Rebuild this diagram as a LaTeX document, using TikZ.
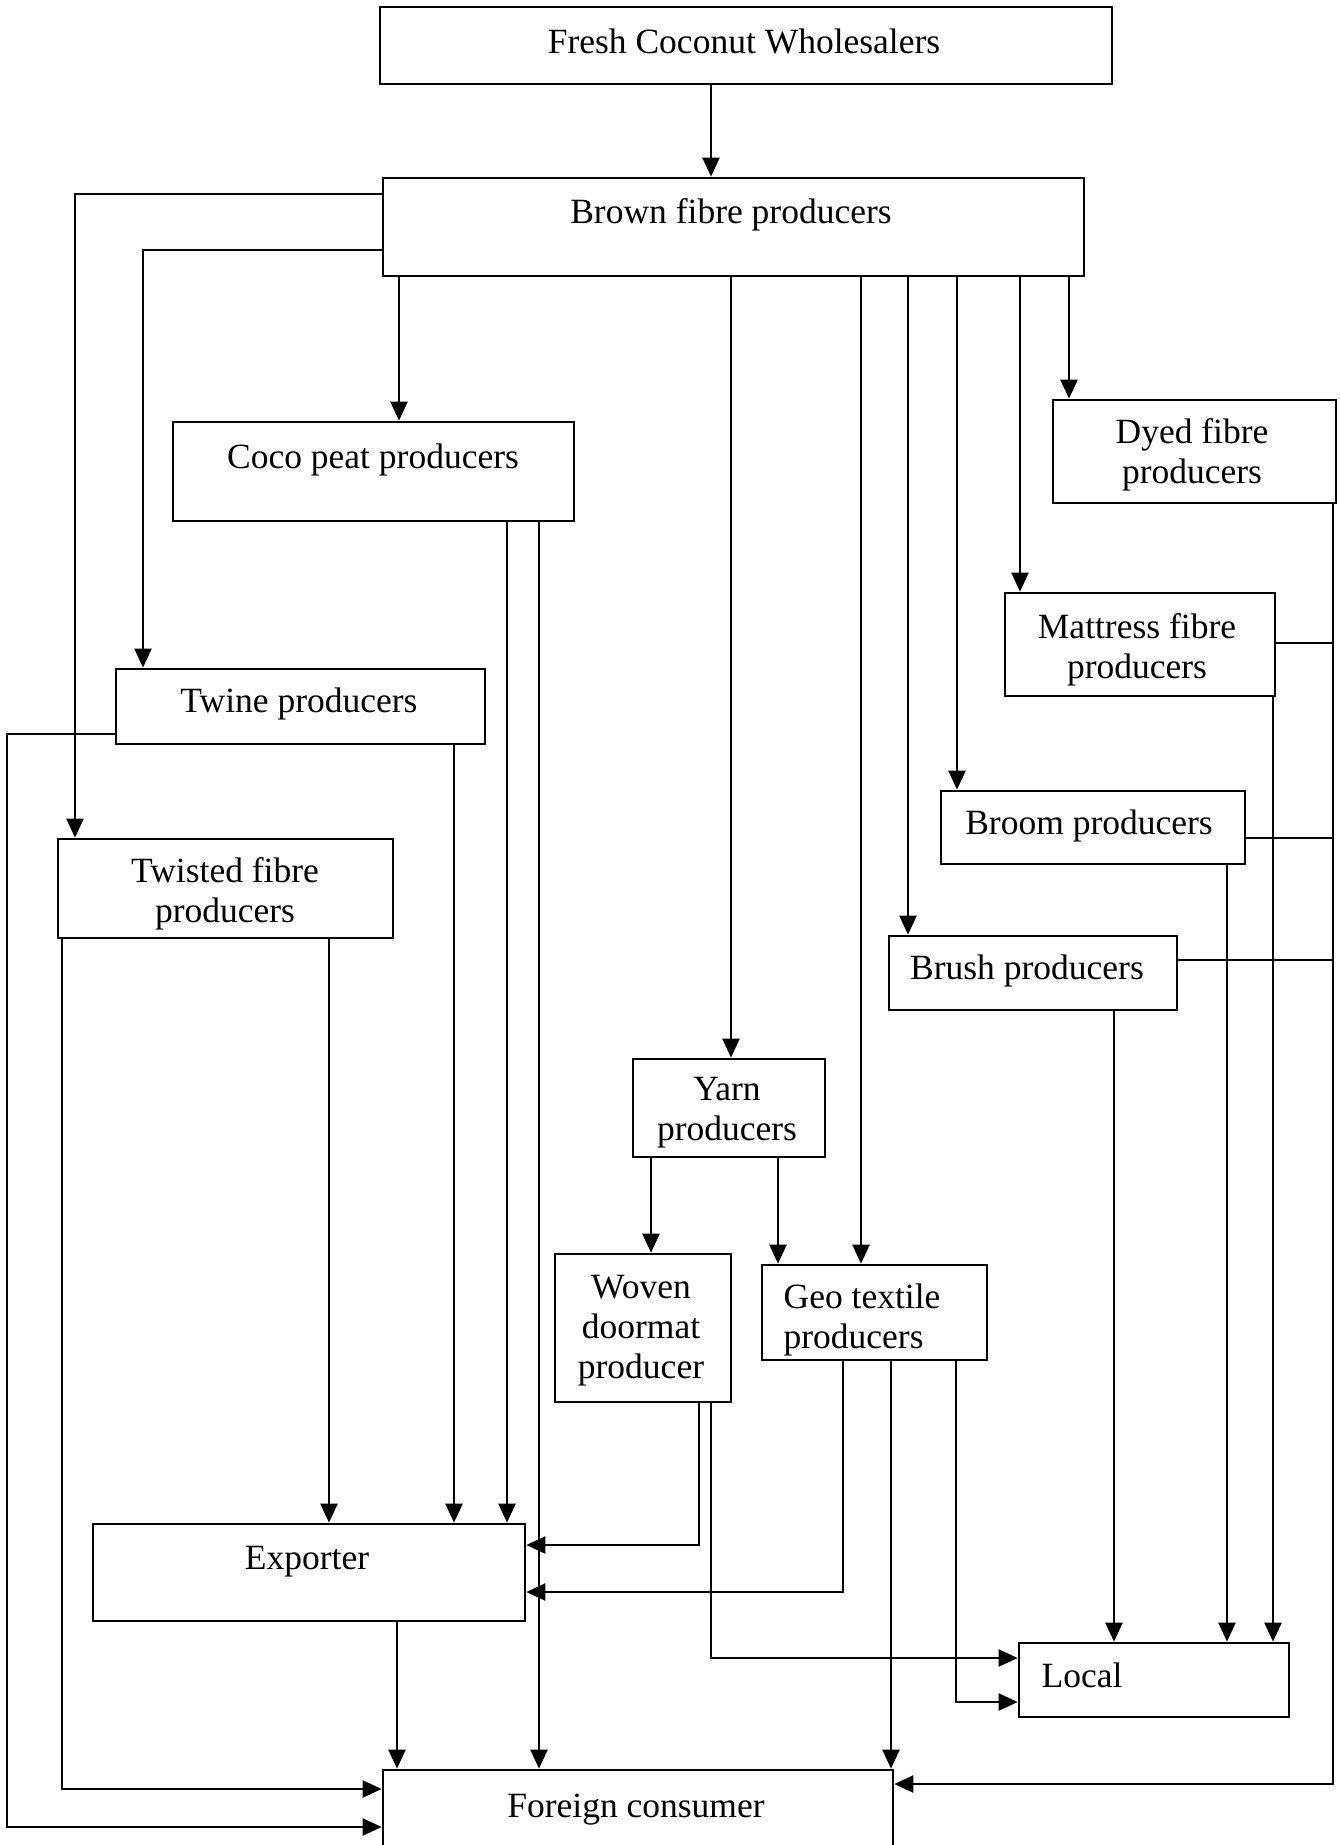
\documentclass[tikz,border=0pt]{standalone}
\usepackage{fontspec}
\setmainfont{Liberation Serif}
\usetikzlibrary{arrows.meta,fit}
\begin{document}
\begin{tikzpicture}[x=1pt,y=-1pt,
  box/.style={draw, line width=2.7pt, inner sep=0pt, rectangle},
  lbl/.style={font=\fontsize{35.5}{40}\selectfont, inner sep=0pt, align=center},
  conn/.style={line width=2.3pt},
  arr/.style={conn, -{Triangle[length=19pt,width=17pt]}}]
\useasboundingbox (0,0) rectangle (1340,1845);
% boxes
\node[box, fit={(380,7) (1112,84)}] (fresh) {};
\node[box, fit={(383,178) (1084,276)}] (brown) {};
\node[box, fit={(173,422) (574,521)}] (coco) {};
\node[box, fit={(1053,400) (1336,503)}] (dyed) {};
\node[box, fit={(1005,593) (1275,696)}] (mattress) {};
\node[box, fit={(116,669) (485,744)}] (twine) {};
\node[box, fit={(58,839) (393,938)}] (twisted) {};
\node[box, fit={(941,791) (1245,864)}] (broom) {};
\node[box, fit={(889,936) (1177,1010)}] (brush) {};
\node[box, fit={(633,1059) (825,1157)}] (yarn) {};
\node[box, fit={(555,1254) (731,1402)}] (woven) {};
\node[box, fit={(762,1265) (987,1360)}] (geo) {};
\node[box, fit={(93,1524) (525,1621)}] (exporter) {};
\node[box, fit={(1019,1643) (1289,1717)}] (local) {};
\node[box, fit={(383,1770) (893,1880)}] (foreign) {};
% texts
\node[lbl] (freshT) at (744,41) {Fresh Coconut Wholesalers};
\node[lbl] (brownT) at (731,215) {Brown fibre producers};
\node[lbl] (cocoT) at (373,460) {Coco peat producers};
\node[lbl] (dyedT) at (1192,455) {Dyed fibre\\producers};
\node[lbl] (mattressT) at (1137,650) {Mattress fibre\\producers};
\node[lbl] (twineT) at (299,704) {Twine producers};
\node[lbl] (twistedT) at (225,894) {Twisted fibre\\producers};
\node[lbl] (broomT) at (1089,826) {Broom producers};
\node[lbl] (brushT) at (1027,971) {Brush producers};
\node[lbl] (yarnT) at (727,1113) {Yarn\\producers};
\node[lbl] (wovenT) at (641,1331) {Woven\\doormat\\producer};
\node[lbl, align=left] (geoT) at (862,1320) {Geo textile\\producers};
\node[lbl] (exporterT) at (307,1562) {Exporter};
\node[lbl] (localT) at (1082,1675) {Local};
\node[lbl] (foreignT) at (636,1810) {Foreign consumer};
% connectors from the top
\draw[arr] (fresh.south -| 711,0) -- (brown.north -| 711,0);
\draw[arr] (brown.west |- 0,194) -| (twisted.north -| 75,0);
\draw[arr] (brown.west |- 0,250) -| (twine.north -| 143,0);
\draw[arr] (brown.south -| 399,0) -- (coco.north -| 399,0);
\draw[arr] (brown.south -| 731,0) -- (yarn.north -| 731,0);
\draw[arr] (brown.south -| 861,0) -- (geo.north -| 861,0);
\draw[arr] (brown.south -| 908,0) -- (brush.north -| 908,0);
\draw[arr] (brown.south -| 957,0) -- (broom.north -| 957,0);
\draw[arr] (brown.south -| 1020,0) -- (mattress.north -| 1020,0);
\draw[arr] (brown.south -| 1069,0) -- (dyed.north -| 1069,0);
% coco peat
\draw[arr] (coco.south -| 507,0) -- (exporter.north -| 507,0);
\draw[arr] (coco.south -| 539,0) -- (foreign.north -| 539,0);
% twine
\draw[arr] (twine.south -| 454,0) -- (exporter.north -| 454,0);
\draw[arr] (twine.west |- 0,734) -- (7,734) |- (foreign.west |- 0,1827);
% twisted
\draw[arr] (twisted.south -| 62,0) |- (foreign.west |- 0,1789);
\draw[arr] (twisted.south -| 329,0) -- (exporter.north -| 329,0);
% yarn
\draw[arr] (yarn.south -| 651,0) -- (woven.north -| 651,0);
\draw[arr] (yarn.south -| 778,0) -- (geo.north -| 778,0);
% woven
\draw[arr] (woven.south -| 699,0) |- (exporter.east |- 0,1545);
\draw[arr] (woven.south -| 711,0) |- (local.west |- 0,1658);
% geo textile
\draw[arr] (geo.south -| 843,0) |- (exporter.east |- 0,1592);
\draw[arr] (geo.south -| 891,0) -- (foreign.north -| 891,0);
\draw[arr] (geo.south -| 956,0) |- (local.west |- 0,1702);
% exporter
\draw[arr] (exporter.south -| 397,0) -- (foreign.north -| 397,0);
% to local
\draw[arr] (brush.south -| 1114,0) -- (local.north -| 1114,0);
\draw[arr] (broom.south -| 1227,0) -- (local.north -| 1227,0);
\draw[arr] (mattress.south -| 1273,0) -- (local.north -| 1273,0);
% right bus to foreign consumer
\draw[arr] (dyed.south -| 1333,0) |- (foreign.east |- 0,1784);
\draw[conn] (mattress.east |- 0,643) -- (1333,643);
\draw[conn] (broom.east |- 0,838) -- (1333,838);
\draw[conn] (brush.east |- 0,960) -- (1333,960);
\end{tikzpicture}
\end{document}
